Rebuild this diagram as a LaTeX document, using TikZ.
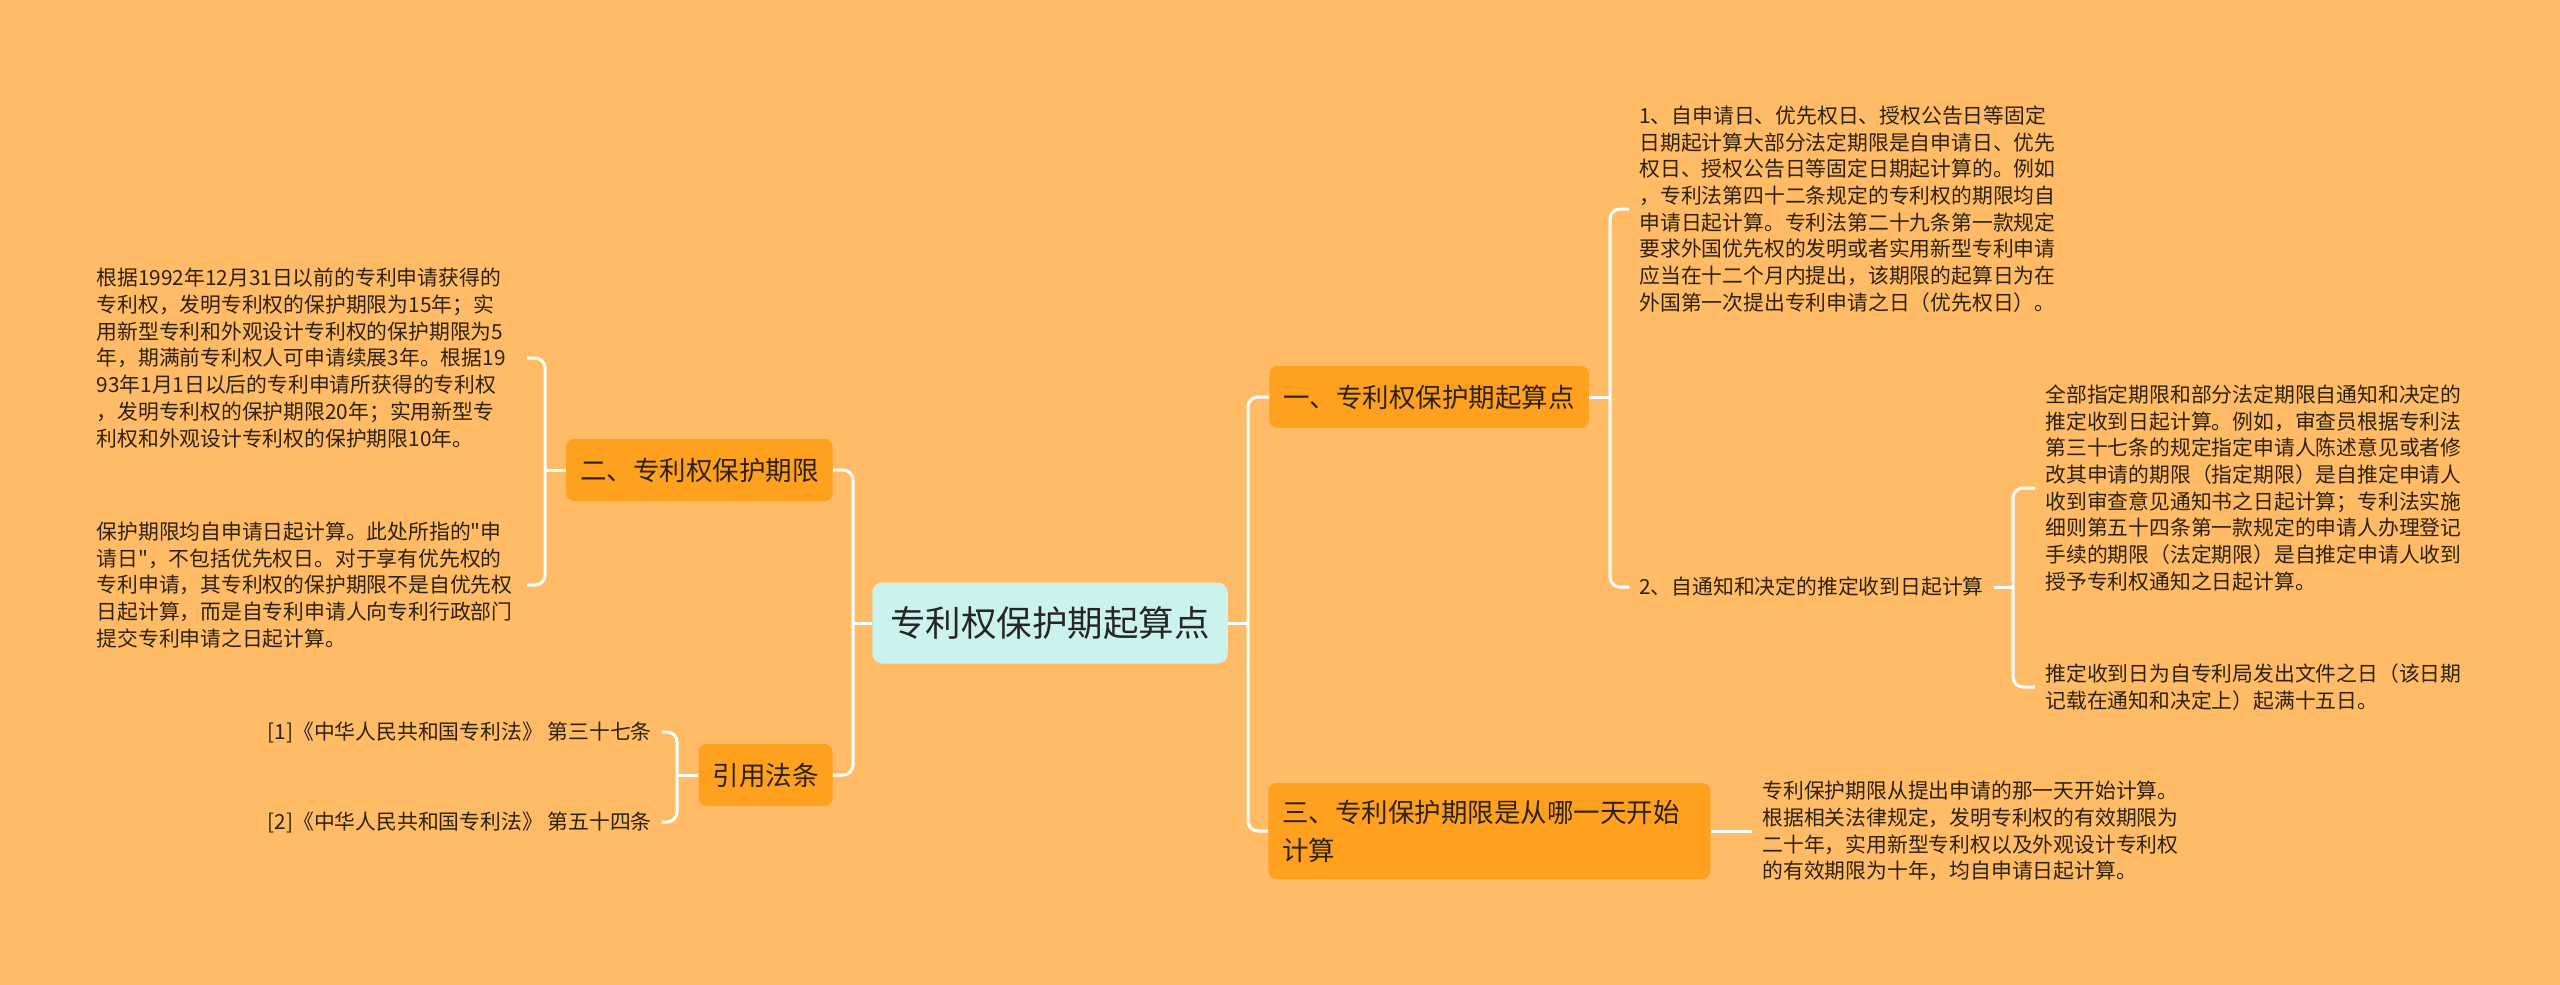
\documentclass[tikz,border=0pt]{standalone}
\usepackage{fontspec}
\setmainfont{Noto Sans CJK SC}
\newfontfamily\plainqfont{Noto Sans CJK SC}
\newcommand{\sq}{{\plainqfont"}}
\usepackage{tikz}
\usetikzlibrary{calc, positioning}
\usepackage{xcolor}
\definecolor{bgc}{HTML}{FFBB66}
\definecolor{branchc}{HTML}{FFA11E}
\definecolor{rootc}{HTML}{CCF2EE}
\definecolor{txtc}{HTML}{2E2212}

\begin{document}
\begin{tikzpicture}[x=0.5pt, y=-0.5pt,
    leaf/.style={text=txtc, align=left, inner sep=5pt, text width=210pt,
      font=\fontsize{10.4pt}{13.35pt}\selectfont},
    refline/.style={text=txtc, inner sep=5pt, font=\fontsize{10.4pt}{13.35pt}\selectfont},
    branch/.style={fill=branchc, rounded corners=4pt, text=txtc, inner xsep=7pt,
      minimum height=31pt, font=\fontsize{13.25pt}{19pt}\selectfont},
    root/.style={fill=rootc, rounded corners=5pt, text=black!85, inner xsep=9pt,
      minimum height=40.5pt, font=\fontsize{17.75pt}{22pt}\selectfont},
    link/.style={draw=white, line width=1.5pt, rounded corners=5pt}]
  \useasboundingbox (0,0) rectangle (2560,985);
  \fill[bgc] (0,0) rectangle (2560,985);

  % centre and main branches
  \node[root] (root) at (1050,623) {专利权保护期起算点};
  \node[branch, anchor=west] (b1) at (1269,397) {一、专利权保护期起算点};
  \node[branch, anchor=west, align=left, text width=207pt, minimum height=48pt] (b3) at (1268,831)
    {三、专利保护期限是从哪一天开始\\计算};
  \node[branch, anchor=east] (b2) at (833,470) {二、专利权保护期限};
  \node[branch, anchor=east] (b4) at (833,775) {引用法条};

  % right side leaves
  \node[leaf, anchor=west] (k1) at (1629,209) {1、自申请日、优先权日、授权公告日等固定\\日期起计算大部分法定期限是自申请日、优先\\权日、授权公告日等固定日期起计算的。例如\\，专利法第四十二条规定的专利权的期限均自\\申请日起计算。专利法第二十九条第一款规定\\要求外国优先权的发明或者实用新型专利申请\\应当在十二个月内提出，该期限的起算日为在\\外国第一次提出专利申请之日（优先权日）。};
  \node[refline, anchor=west] (k2) at (1629,587) {2、自通知和决定的推定收到日起计算};
  \node[leaf, anchor=west] (k21) at (2035,488) {全部指定期限和部分法定期限自通知和决定的\\推定收到日起计算。例如，审查员根据专利法\\第三十七条的规定指定申请人陈述意见或者修\\改其申请的期限（指定期限）是自推定申请人\\收到审查意见通知书之日起计算；专利法实施\\细则第五十四条第一款规定的申请人办理登记\\手续的期限（法定期限）是自推定申请人收到\\授予专利权通知之日起计算。};
  \node[leaf, anchor=west] (k22) at (2035,687) {推定收到日为自专利局发出文件之日（该日期\\记载在通知和决定上）起满十五日。};
  \node[leaf, anchor=west] (k3) at (1752,831) {专利保护期限从提出申请的那一天开始计算。\\根据相关法律规定，发明专利权的有效期限为\\二十年，实用新型专利权以及外观设计专利权\\的有效期限为十年，均自申请日起计算。};

  % left side leaves
  \node[leaf, anchor=east] (l1) at (527,358) {根据1992年12月31日以前的专利申请获得的\\专利权，发明专利权的保护期限为15年；实\\用新型专利和外观设计专利权的保护期限为5\\年，期满前专利权人可申请续展3年。根据19\\93年1月1日以后的专利申请所获得的专利权\\，发明专利权的保护期限20年；实用新型专\\利权和外观设计专利权的保护期限10年。};
  \node[leaf, anchor=east] (l2) at (527,585) {保护期限均自申请日起计算。此处所指的\sq 申\\请日\sq ，不包括优先权日。对于享有优先权的\\专利申请，其专利权的保护期限不是自优先权\\日起计算，而是自专利申请人向专利行政部门\\提交专利申请之日起计算。};
  \node[refline, anchor=east] (r1) at (662,732) {[1]《中华人民共和国专利法》 第三十七条};
  \node[refline, anchor=east] (r2) at (662,822) {[2]《中华人民共和国专利法》 第五十四条};

  % hubs
  \coordinate (lhub) at (853,623);
  \coordinate (rhub) at (1248,623);
  \coordinate (h1) at (1610,397);
  \coordinate (h2) at (2013,587);
  \coordinate (h3) at (545,470);
  \coordinate (h4) at (677,775);

  \draw[link] (root.west) -- (lhub);
  \draw[link] (b2.east) -| (lhub) |- (b4.east);
  \draw[link] (root.east) -- (rhub);
  \draw[link] (b1.west) -| (rhub) |- (b3.west);
  \draw[link] (b1.east) -- (h1);
  \draw[link] (k1.west) -| (h1) |- (k2.west);
  \draw[link] (k2.east) -- (h2);
  \draw[link] (k21.west) -| (h2) |- (k22.west);
  \draw[link] (b3.east) -- (k3.west);
  \draw[link] (b2.west) -- (h3);
  \draw[link] (l1.east) -| (h3) |- (l2.east);
  \draw[link] (b4.west) -- (h4);
  \draw[link] (r1.east) -| (h4) |- (r2.east);
\end{tikzpicture}
\end{document}
